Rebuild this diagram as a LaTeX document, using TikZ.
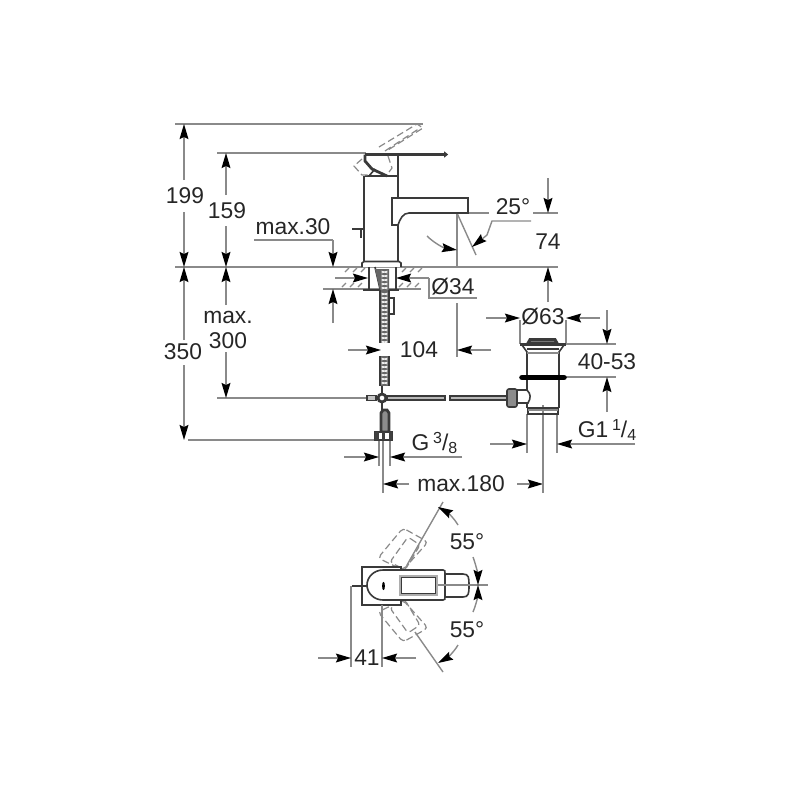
\documentclass[tikz,border=0pt]{standalone}
\usepackage{fontspec}
\setmainfont{Liberation Sans}
\usetikzlibrary{arrows.meta}
\definecolor{dimgrey}{HTML}{8A8A8A}
\definecolor{ink}{HTML}{3A3A3A}
\tikzset{
  dl/.style={draw=dimgrey,line width=0.7pt},
  da/.style={draw=dimgrey,line width=0.7pt,-{Stealth[length=7.5pt,width=4.4pt,inset=1pt,color=black]}},
  ol/.style={draw=ink,line width=0.8pt},
  thick ol/.style={draw=ink,line width=1.4pt},
  dash ol/.style={draw=dimgrey,line width=0.6pt,dash pattern=on 3.5pt off 1.8pt},
  lab/.style={font=\fontsize{11.4}{13}\selectfont,text=black!85,inner sep=0pt},
  hatchmark/.style={draw=dimgrey,line width=0.6pt}
}
\begin{document}
\begin{tikzpicture}[x=0.5pt,y=-0.5pt]
\useasboundingbox (0,0) rectangle (800,800);
% --- main datum lines
\draw[dl] (175,124) -- (423,124);
\draw[dl] (217,153) -- (366,153);
\draw[dl] (175,267) -- (558,267);
\draw[dl] (323,289) -- (421,289);
\draw[dl] (188,440) -- (375,440);
\draw[dl] (217,398) -- (368,398);
% 199
\draw[da] (184,180) -- (184,124);
\draw[da] (184,212) -- (184,267);
\draw[da] (184,340) -- (184,267);
\draw[da] (184,365) -- (184,440);
% 159
\draw[da] (226,195) -- (226,153);
\draw[da] (226,226) -- (226,267);
% 300
\draw[da] (226,305) -- (226,267);
\draw[da] (226,352) -- (226,398);
% max.30
\draw[dl] (254,240) -- (333,240);
\draw[da] (333,240) -- (333,267);
\draw[da] (333,323) -- (333,289);
% O34
\draw[da] (335,278) -- (368,278);
\draw[da] (429,278) -- (396,278);
\draw[dl] (429,278) -- (429,298) -- (477,298);
% 74 and 25
\draw[dl] (468,213) -- (489,213);
\draw[dl] (533,213) -- (558,213);
\draw[da] (548,178) -- (548,213);
\draw[da] (548,302) -- (548,267);
\draw[dl] (457,213) -- (457,267);
\draw[dl] (457,303) -- (457,357);
\draw[dl] (457,213) -- (476,255);
\draw[da] (427,236) .. controls (434,243) and (444,248) .. (457,250);
\draw[da] (531,221) -- (492,221) -- (487,235) -- (472,247);
% 104
\draw[da] (348,350) -- (381,350);
\draw[da] (491,350) -- (457,350);
% G 3/8
\draw[dl] (379,440) -- (379,466);
\draw[dl] (390,440) -- (390,466);
\draw[da] (344,457) -- (379,457);
\draw[da] (462,457) -- (390,457);
% max.180
\draw[dl] (383,440) -- (383,493);
\draw[da] (409,484) -- (383,484);
\draw[da] (517,484) -- (543,484);
\draw[dl] (543,405) -- (543,493);
% O63
\draw[dl] (520,320) -- (520,344);
\draw[dl] (566,320) -- (566,344);
\draw[da] (486,318) -- (520,318);
\draw[da] (600,318) -- (566,318);
% 40-53
\draw[dl] (566,344) -- (616,344);
\draw[dl] (566,377) -- (616,377);
\draw[da] (607,310) -- (607,344);
\draw[da] (607,412) -- (607,377);
% G1 1/4
\draw[dl] (527,414) -- (527,453);
\draw[dl] (557,414) -- (557,453);
\draw[da] (490,444) -- (527,444);
\draw[da] (635,444) -- (557,444);
% --- faucet
\draw[ol] (364,176) -- (364,262);
\draw[ol] (398,155) -- (398,198);
\draw[ol] (398,225) -- (398,262);
\draw[thick ol] (365,176) -- (398,176);
\draw[thick ol] (365,154.5) -- (445,154.5);
\draw[ol,fill=white] (445,153) .. controls (447.5,153) and (447.5,156) .. (445,156) -- cycle;
\draw[thick ol] (365,154.5) -- (365,161) -- (372,169) -- (387,176);
\draw[ol] (369,176) -- (375,169);
% dashed lever
\draw[dash ol] (379,147) -- (417,124) -- (423,128) -- (388,150);
\draw[dash ol] (385,151) -- (420,128);
\draw[dash ol] (362,159) -- (354,166) -- (362,175) -- (370,175);
\draw[dash ol] (388,156) -- (392,168) -- (389,172);
% knob
\draw[thick ol] (352,229) -- (364,229);
\draw[ol] (361,229) -- (361,238);
% spout
\draw[ol] (392,198) -- (468,198) -- (468,213) -- (409,213)
   .. controls (403,213) and (400,219) .. (398,225) -- (392,225) -- cycle;
% base plate
\draw[ol,fill=white] (362,267) -- (362,263) -- (364,261.5) -- (399,261.5) -- (401,263) -- (401,267);
\draw[ol] (369,267) -- (369,289);
\draw[ol] (396,267) -- (396,289);
\draw[ol] (375,267) -- (380,289);
\draw[thick ol] (363,290) -- (399,290);
% counter hatching
\foreach \hx in {345,353,361,402,410,418}{
  \draw[hatchmark] (\hx,272) -- (\hx+4,268);
  \draw[hatchmark] (\hx-3,287) -- (\hx+1,283);
}
% hose
\foreach \ya/\yb in {290/343,356/386}{
  \fill[black!60] (380,\ya) rectangle (389,\yb);
  \draw[thick ol] (380,\ya) -- (380,\yb);
  \draw[thick ol] (389,\ya) -- (389,\yb);
}
\foreach \hy in {293,297,...,341}{
  \draw[white,line width=0.4pt] (381.5,\hy) -- (387.5,\hy+2);
  \draw[white,line width=0.4pt] (381.5,\hy+2) -- (387.5,\hy);
}
\foreach \hy in {358,362,...,384}{
  \draw[white,line width=0.4pt] (381.5,\hy) -- (387.5,\hy+2);
  \draw[white,line width=0.4pt] (381.5,\hy+2) -- (387.5,\hy);
}
\fill[black!60] (375,269) -- (389,269) -- (389,290) -- (380,290) -- cycle;
\foreach \hy in {271,275,...,287}{
  \draw[white,line width=0.4pt] (381.5,\hy) -- (387.5,\hy+2);
  \draw[white,line width=0.4pt] (381.5,\hy+2) -- (387.5,\hy);
}
\draw[ol] (389,298) -- (394,298) -- (394,314) -- (389,314);
% tee
\draw[ol,fill=dimgrey!50] (367,395.5) rectangle (376,400.5);
\draw[thick ol,fill=white] (382,398) circle[radius=4];
\draw[thick ol] (382,386) -- (382,393);
\draw[thick ol] (382,403) -- (382,410);
% tube
\draw[ol,fill=dimgrey!60] (387,396) rectangle (445,400);
\draw[ol,fill=dimgrey!60] (450,396) rectangle (507,400);
% lower fitting
\draw[thick ol,fill=black!45] (381,413) -- (383,410) -- (387,410) -- (389,413) -- (389,432) -- (381,432) -- cycle;
\draw[thick ol,fill=white] (375,432) rectangle (392,440);
\fill[black!75] (375,432) rectangle (379,440);
\fill[black!75] (382,432) rectangle (385,440);
\fill[black!75] (389,432) rectangle (392,440);
% --- drain
\draw[thick ol,fill=black!40] (528,343) -- (530,339.5) -- (555,339.5) -- (557,343) -- cycle;
\draw[thick ol] (520,344.5) -- (566,344.5);
\draw[ol] (522,345) -- (527,352) -- (527,375);
\draw[ol] (564,345) -- (559,352) -- (559,375);
\draw[ol] (527,349) -- (559,349);
\draw[dl] (527,353) -- (559,353);
\draw[black,line width=2.8pt,line cap=round] (522,377.5) -- (564,377.5);
\draw[ol] (559,380) -- (559,408);
\draw[ol] (527,380) -- (527,390);
\draw[ol] (527,402) -- (527,408);
\draw[ol] (517,390) -- (527,390) .. controls (531,394) and (531,398) .. (528,403) -- (517,403);
\draw[ol,fill=black!45,rounded corners=1pt] (507,389) rectangle (517,407);
\draw[ol] (528,408) rectangle (558,414);
\draw[dl] (528,410) -- (558,410);
% --- top view
\draw[dash ol,rounded corners=2pt] (403,528) -- (428,542) -- (403,570) -- (378,558) -- cycle;
\draw[dash ol,rounded corners=1.5pt] (408,537) -- (420,545) -- (405,570) -- (390,562) -- cycle;
\draw[dash ol,rounded corners=2pt] (403,642) -- (428,628) -- (403,600) -- (378,612) -- cycle;
\draw[dash ol,rounded corners=1.5pt] (408,633) -- (420,625) -- (405,600) -- (390,608) -- cycle;
\draw[ol,fill=white] (362,567) rectangle (401,605);
\draw[ol,fill=white] (445,574) -- (463,574) .. controls (469,574) and (469,578) .. (469,585)
   .. controls (469,593) and (469,597) .. (463,597) -- (445,597) -- cycle;
\draw[ol,fill=white] (443,570) -- (383,570) .. controls (374,570) and (367,577) .. (367,585)
   .. controls (367,593) and (374,600) .. (383,600) -- (443,600)
   .. controls (445,600) and (445,599) .. (445,597) -- (445,573) .. controls (445,571) and (445,570) .. (443,570) -- cycle;
\draw[draw=dimgrey!70,line width=1.4pt] (400,576) rectangle (437,595);
\draw[ink,line width=0.4pt] (401.5,577.5) rectangle (435.5,593.5);
\fill[black] (383.5,586) ellipse[x radius=1.4,y radius=4.2];
\draw[thick ol] (352,586) -- (367,586);
\draw[dl] (438,585) -- (488,585);
\draw[dl] (351,586) -- (351,667);
\draw[dl] (382,605) -- (382,667);
\draw[da] (318,658) -- (351,658);
\draw[da] (416,658) -- (382,658);
\draw[dl] (443,502) -- (407,565);
\draw[dl] (415,632) -- (443,672);
\draw[da] (458,525) .. controls (454,518) and (447,512) .. (438,507);
\draw[da] (473,557) .. controls (476,565) and (478,575) .. (478,585);
\draw[da] (473,612) .. controls (476,605) and (478,595) .. (478,585);
\draw[da] (458,645) .. controls (454,652) and (447,658) .. (438,663);
% --- labels
\node[lab] (t199) at (185,196) {199};
\node[lab] (t159) at (227,211) {159};
\node[lab] (tm30) at (293,227) {max.30};
\node[lab] (t25) at (513,207) {25°};
\node[lab] (t74) at (548,242) {74};
\node[lab] (t34) at (453,287) {Ø34};
\node[lab] (t63) at (543,317) {Ø63};
\node[lab] (tmax) at (228,317) {max.};
\node[lab] (t300) at (228,341) {300};
\node[lab] (t350) at (183,352) {350};
\node[lab] (t104) at (419,350) {104};
\node[lab] (t4053) at (607,362) {40-53};
\node[lab] (tg38) at (434.5,443) {G\,\raisebox{3.5pt}{\fontsize{8}{9}\selectfont 3}/\raisebox{-1.5pt}{\fontsize{8}{9}\selectfont 8}};
\node[lab] (tg114) at (607,430) {G1\,\raisebox{3.5pt}{\fontsize{8}{9}\selectfont 1}/\raisebox{-1.5pt}{\fontsize{8}{9}\selectfont 4}};
\node[lab] (t180) at (461,484) {max.180};
\node[lab] (t55a) at (467,542) {55°};
\node[lab] (t55b) at (467,630) {55°};
\node[lab] (t41) at (367,658) {41};
\end{tikzpicture}
\end{document}
